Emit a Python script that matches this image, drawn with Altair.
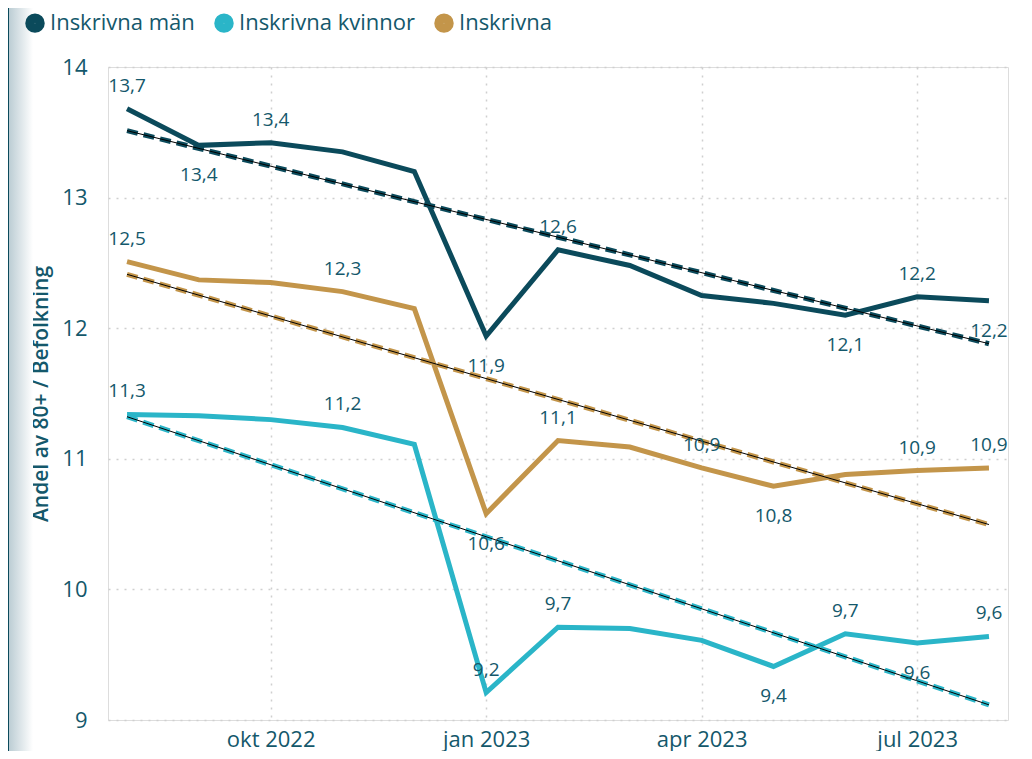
import altair as alt
import pandas as pd

# month index 0 = aug 2022 ... 12 = aug 2023
months = ["2022-08", "2022-09", "2022-10", "2022-11", "2022-12", "2023-01", "2023-02",
          "2023-03", "2023-04", "2023-05", "2023-06", "2023-07", "2023-08"]
series_names = ["Inskrivna män", "Inskrivna kvinnor", "Inskrivna"]
man = [13.68, 13.40, 13.42, 13.35, 13.20, 11.94, 12.60, 12.48, 12.25, 12.19, 12.10, 12.24, 12.21]
kvinnor = [11.34, 11.33, 11.30, 11.24, 11.11, 9.21, 9.71, 9.70, 9.61, 9.41, 9.66, 9.59, 9.64]
totalt = [12.51, 12.37, 12.35, 12.28, 12.15, 10.58, 11.14, 11.09, 10.93, 10.79, 10.88, 10.91, 10.93]
# label placement: a = above, b = below, "" = none
man_lab = ["a", "b", "a", "", "", "b", "a", "", "", "", "b", "a", "b"]
kvinnor_lab = ["a", "", "", "a", "", "a", "a", "", "", "b", "a", "b", "a"]
totalt_lab = ["a", "", "", "a", "", "b", "a", "", "a", "b", "", "a", "a"]
tick_months = [2, 5, 8, 11]
tick_labels = ["okt 2022", "jan 2023", "apr 2023", "jul 2023"]
colors = ["#0b4a5b", "#2ab5c8", "#c3954a"]

rows = []
for name, vals, labs in zip(series_names, [man, kvinnor, totalt], [man_lab, kvinnor_lab, totalt_lab]):
    for i, (mo, v, lb) in enumerate(zip(months, vals, labs)):
        rows.append({"m": i, "month": mo, "s": name, "v": v, "pos": lb})
df = pd.DataFrame(rows)

TXT = "#14586b"
FONT = "Open Sans"
GRID = "#cfcfcf"

label_expr = "{" + ",".join(f"'{m}':'{l}'" for m, l in zip(tick_months, tick_labels)) + "}[datum.value]"

x = alt.X("m:Q", scale=alt.Scale(domain=[-0.265, 12.265], nice=False, zero=False),
          axis=alt.Axis(values=tick_months, labelExpr=label_expr, title=None, grid=True,
                        domain=False, ticks=False, labelFontSize=22, labelColor=TXT,
                        labelFont=FONT, labelPadding=9, gridDash=[2, 6], gridColor=GRID,
                        gridWidth=1.5))
y = alt.Y("v:Q", scale=alt.Scale(domain=[9, 14], nice=False, zero=False),
          axis=alt.Axis(values=[9, 10, 11, 12, 13, 14], title="Andel av 80+ / Befolkning",
                        titleFontSize=21, titleFont=FONT, titleColor=TXT, titleFontWeight=600,
                        titlePadding=10, domain=False, ticks=False, labelFontSize=22,
                        labelColor=TXT, labelFont=FONT, labelPadding=21, gridDash=[2, 6],
                        gridColor=GRID, gridWidth=1.5))
color = alt.Color("s:N", scale=alt.Scale(domain=series_names, range=colors),
                  legend=alt.Legend(title=None, orient="none", legendX=-84, legendY=-55,
                                    direction="horizontal", symbolType="circle", symbolSize=90,
                                    symbolStrokeWidth=10, labelFontSize=22, labelColor=TXT,
                                    labelFont=FONT, columnPadding=4, labelOffset=4, padding=0,
                                    labelLimit=0))

base = alt.Chart(df)

lines = base.mark_line(strokeWidth=5).encode(x=x, y=y, color=color)

trend = base.transform_regression("m", "v", groupby=["s"])
trend_col = trend.mark_line(strokeWidth=5, strokeDash=[11, 6]).encode(
    x=x, y=y, color=alt.Color("s:N", scale=alt.Scale(domain=series_names, range=colors), legend=None))
trend_blk = trend.mark_line(strokeWidth=1, color="#000000").encode(x=x, y=y, detail="s:N")

lab = base.transform_calculate(t="replace(format(datum.v, '.1f'), '.', ',')")
above = lab.transform_filter("datum.pos == 'a'").mark_text(
    dy=-23, fontSize=19, font=FONT, color=TXT).encode(x=x, y=y, text="t:N")
below = lab.transform_filter("datum.pos == 'b'").mark_text(
    dy=30, fontSize=19, font=FONT, color=TXT).encode(x=x, y=y, text="t:N")

deco = alt.Chart(pd.DataFrame({"k": [0]})).mark_rect(
    color=alt.LinearGradient(gradient="linear", x1=0, x2=1, y1=0, y2=0,
                             stops=[alt.GradientStop(color="#bccdd4", offset=0),
                                    alt.GradientStop(color="#ffffff", offset=1)])
).encode(x=alt.value(-99), x2=alt.value(-75), y=alt.value(-67), y2=alt.value(690))
deco_line = alt.Chart(pd.DataFrame({"k": [0]})).mark_rule(color="#0b4a5b", strokeWidth=2).encode(
    x=alt.value(-100), y=alt.value(-67), y2=alt.value(690))

chart = alt.layer(deco, deco_line, lines, trend_col, trend_blk, above, below).properties(
    width=900, height=653,
    autosize=alt.AutoSizeParams(type="none"),
    padding={"left": 100, "top": 59, "right": 16, "bottom": 31},
).configure_view(stroke=None).configure(font=FONT)

chart.save("out.html", embed_options={"renderer": "svg", "actions": False})
